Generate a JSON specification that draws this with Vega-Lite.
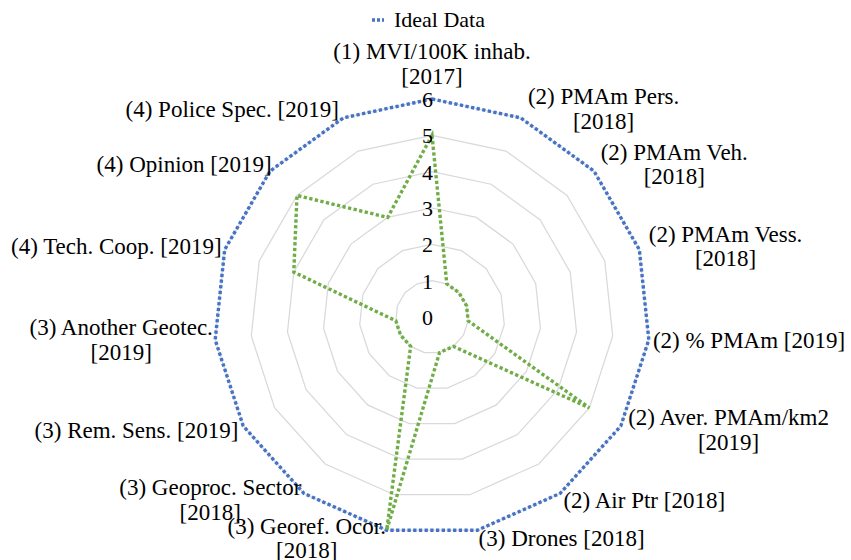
{
  "$schema": "https://vega.github.io/schema/vega-lite/v6.json",
  "width": 851,
  "height": 560,
  "autosize": "none",
  "padding": 0,
  "background": "white",
  "config": {
    "view": {"stroke": null},
    "font": "Liberation Serif",
    "legend": {"labelFont": "Liberation Serif", "labelFontSize": 22, "labelColor": "#000000"}
  },
  "data": {
    "values": [
      {"i": 0, "label": "(1) MVI/100K inhab.\n[2017]", "ideal": 6, "value": 5, "levels": [1, 2, 3, 4, 5, 6]},
      {"i": 1, "label": "(2) PMAm Pers.\n[2018]", "ideal": 6, "value": 1, "levels": [1, 2, 3, 4, 5, 6]},
      {"i": 2, "label": "(2) PMAm Veh.\n[2018]", "ideal": 6, "value": 1, "levels": [1, 2, 3, 4, 5, 6]},
      {"i": 3, "label": "(2) PMAm Vess.\n[2018]", "ideal": 6, "value": 1, "levels": [1, 2, 3, 4, 5, 6]},
      {"i": 4, "label": "(2) % PMAm [2019]", "ideal": 6, "value": 1, "levels": [1, 2, 3, 4, 5, 6]},
      {"i": 5, "label": "(2) Aver. PMAm/km2\n[2019]", "ideal": 6, "value": 5, "levels": [1, 2, 3, 4, 5, 6]},
      {"i": 6, "label": "(2) Air Ptr [2018]", "ideal": 6, "value": 1, "levels": [1, 2, 3, 4, 5, 6]},
      {"i": 7, "label": "(3) Drones [2018]", "ideal": 6, "value": 1, "levels": [1, 2, 3, 4, 5, 6]},
      {"i": 8, "label": "(3) Georef. Ocor.\n[2018]", "ideal": 6, "value": 6, "levels": [1, 2, 3, 4, 5, 6]},
      {"i": 9, "label": "(3) Geoproc. Sector\n[2018]", "ideal": 6, "value": 1, "levels": [1, 2, 3, 4, 5, 6]},
      {"i": 10, "label": "(3) Rem. Sens. [2019]", "ideal": 6, "value": 1, "levels": [1, 2, 3, 4, 5, 6]},
      {"i": 11, "label": "(3) Another Geotec.\n[2019]", "ideal": 6, "value": 1, "levels": [1, 2, 3, 4, 5, 6]},
      {"i": 12, "label": "(4) Tech. Coop. [2019]", "ideal": 6, "value": 4, "levels": [1, 2, 3, 4, 5, 6]},
      {"i": 13, "label": "(4) Opinion [2019]", "ideal": 6, "value": 5, "levels": [1, 2, 3, 4, 5, 6]},
      {"i": 14, "label": "(4) Police Spec. [2019]", "ideal": 6, "value": 3, "levels": [1, 2, 3, 4, 5, 6]}
    ]
  },
  "transform": [
    {"calculate": "datum.i * 2 * PI / 15", "as": "t"},
    {"calculate": "sin(datum.t)", "as": "s"},
    {"calculate": "cos(datum.t)", "as": "c"}
  ],
  "layer": [
    {
      "transform": [
        {"flatten": ["levels"], "as": ["level"]},
        {"calculate": "datum.level * datum.s", "as": "gx"},
        {"calculate": "datum.level * datum.c", "as": "gy"}
      ],
      "mark": {"type": "line", "interpolate": "linear-closed", "stroke": "#D9D9D9", "strokeWidth": 1.25},
      "encoding": {
        "x": {"field": "gx", "type": "quantitative", "scale": {"domain": [-11.890, 11.532], "nice": false, "zero": false}, "axis": null},
        "y": {"field": "gy", "type": "quantitative", "scale": {"domain": [-6.688, 8.725], "nice": false, "zero": false}, "axis": null},
        "detail": {"field": "level", "type": "nominal"},
        "order": {"field": "i", "type": "quantitative"}
      }
    },
    {
      "transform": [
        {"calculate": "datum.ideal * datum.s", "as": "ix"},
        {"calculate": "datum.ideal * datum.c", "as": "iy"}
      ],
      "mark": {"type": "line", "interpolate": "linear-closed", "strokeWidth": 3.4, "strokeDash": [3.3, 2.4], "strokeCap": "butt"},
      "encoding": {
        "x": {"field": "ix", "type": "quantitative"},
        "y": {"field": "iy", "type": "quantitative"},
        "order": {"field": "i", "type": "quantitative"},
        "color": {
          "datum": "Ideal Data",
          "type": "nominal",
          "scale": {"range": ["#4472C4"]},
          "legend": {
            "orient": "none",
            "legendX": 367,
            "legendY": 9,
            "title": null,
            "padding": 0,
            "symbolType": "stroke",
            "symbolStrokeWidth": 3.4,
            "symbolDash": [3, 2],
            "symbolSize": 144,
            "labelFont": "Liberation Serif",
            "labelFontSize": 22,
            "labelColor": "#000000",
            "labelOffset": 5
          }
        }
      }
    },
    {
      "transform": [
        {"calculate": "datum.value * datum.s", "as": "dx"},
        {"calculate": "datum.value * datum.c", "as": "dy"}
      ],
      "mark": {"type": "line", "interpolate": "linear-closed", "stroke": "#70AD47", "strokeWidth": 3.4, "strokeDash": [3.3, 2.4], "strokeCap": "butt"},
      "encoding": {
        "x": {"field": "dx", "type": "quantitative"},
        "y": {"field": "dy", "type": "quantitative"},
        "order": {"field": "i", "type": "quantitative"}
      }
    },
    {
      "data": {"values": [{"tick": 0}, {"tick": 1}, {"tick": 2}, {"tick": 3}, {"tick": 4}, {"tick": 5}, {"tick": 6}]},
      "mark": {"type": "text", "align": "center", "baseline": "middle", "dx": -4.5, "dy": 1, "font": "Liberation Serif", "fontSize": 22, "color": "#000000"},
      "encoding": {
        "x": {"datum": 0, "type": "quantitative"},
        "y": {"field": "tick", "type": "quantitative"},
        "text": {"field": "tick", "type": "quantitative"}
      }
    },
    {
      "transform": [
        {"calculate": "split(datum.label, '\\n')[0]", "as": "l1"},
        {"calculate": "length(split(datum.label, '\\n'))", "as": "nl"},
        {"calculate": "length(datum.l1) - length(replace(datum.l1, regexp('[MWmw%]', 'g'), ''))", "as": "nW"},
        {"calculate": "length(datum.l1) - length(replace(datum.l1, regexp('[A-HJ-LN-VX-Z]', 'g'), ''))", "as": "nU"},
        {"calculate": "length(datum.l1) - length(replace(datum.l1, regexp('[abcdeghknopqsuvxyz0-9]', 'g'), ''))", "as": "nR"},
        {"calculate": "23 * (0.83 * datum.nW + 0.68 * datum.nU + 0.48 * datum.nR + 0.29 * (length(datum.l1) - datum.nW - datum.nU - datum.nR))", "as": "w"},
        {"calculate": "abs(datum.s) < 0.05 ? 0 : (datum.s > 0 ? 1 : -1)", "as": "side"},
        {"calculate": "(218 * datum.s + (datum.side > 0 ? (3 + 2 * abs(datum.s) + datum.w / 2) : datum.side < 0 ? -(1 + abs(datum.s) + datum.w / 2) : 0)) / 36.333", "as": "lx"},
        {"calculate": "(datum.side == 0 ? (218 * datum.c + 10 + datum.nl * 24.5 / 2) : (227 * datum.c)) / 36.333 + (datum.nl - 1) * 12.25 / 36.333", "as": "ly"}
      ],
      "mark": {"type": "text", "align": "center", "baseline": "middle", "lineBreak": "\n", "lineHeight": 24.5, "font": "Liberation Serif", "fontSize": 23, "color": "#000000"},
      "encoding": {
        "x": {"field": "lx", "type": "quantitative"},
        "y": {"field": "ly", "type": "quantitative"},
        "text": {"field": "label", "type": "nominal"}
      }
    }
  ]
}
